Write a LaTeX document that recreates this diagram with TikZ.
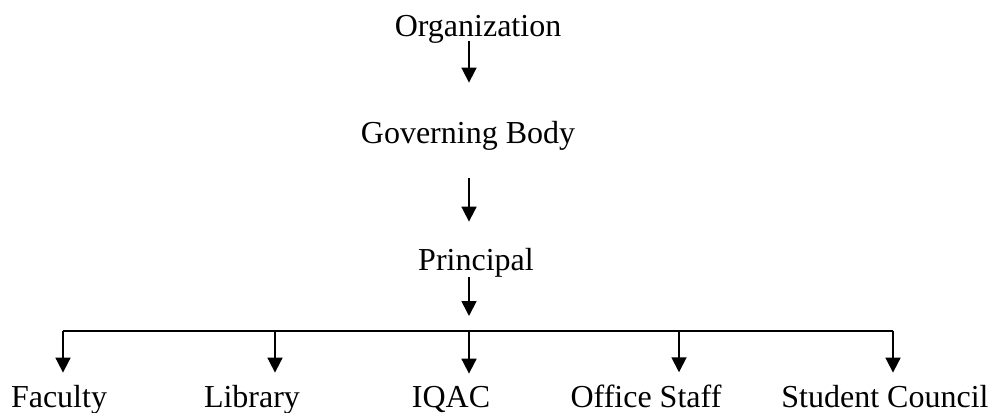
\documentclass[tikz,border=0pt]{standalone}
\usepackage{fontspec}
\setmainfont{Liberation Serif}
\usetikzlibrary{arrows.meta}

\tikzset{
  unit/.style={anchor=base, inner sep=0pt, font=\fontsize{32}{38}\selectfont},
  arr/.style={line width=1.8pt, -{Triangle[length=15pt,width=15pt]}}
}

\begin{document}
\begin{tikzpicture}[x=1pt, y=-1pt]
    \useasboundingbox (0,0) rectangle (995,412);
    \coordinate (spine) at (469,0);
    \node (org) at (478,37) [unit] {Organization};
    \node (gov) at (468,143) [unit] {Governing Body};
    \node (prin) at (476,270) [unit] {Principal};
    \coordinate (bar) at (469,331);
    \coordinate (barleft) at (63,331);
    \coordinate (barright) at (893,331);
    \draw [arr, shorten <=-3pt, shorten >=38pt] (org.south -| spine) -- (gov.north -| spine);
    \draw [arr, shorten <=28pt, shorten >=26pt] (gov.south -| spine) -- (prin.north -| spine);
    \draw [arr, shorten >=15pt] (prin.south -| spine) -- (bar);
    \draw [line width=1.8pt] (barleft) -- (barright);
    % departments under the principal
    \foreach \n/\tx/\ax/\lbl in {fac/59/63/Faculty, lib/252/275/Library,
      iqac/451/469/IQAC, off/646/679/Office Staff, stu/885/893/Student Council}
    {
      \node (\n) at (\tx,407) [unit] {\lbl};
      \coordinate (top\n) at (\ax,331);
      \draw [arr, shorten >=12pt] (top\n) -- (top\n |- \n.north);
    }
  \end{tikzpicture}
\end{document}
